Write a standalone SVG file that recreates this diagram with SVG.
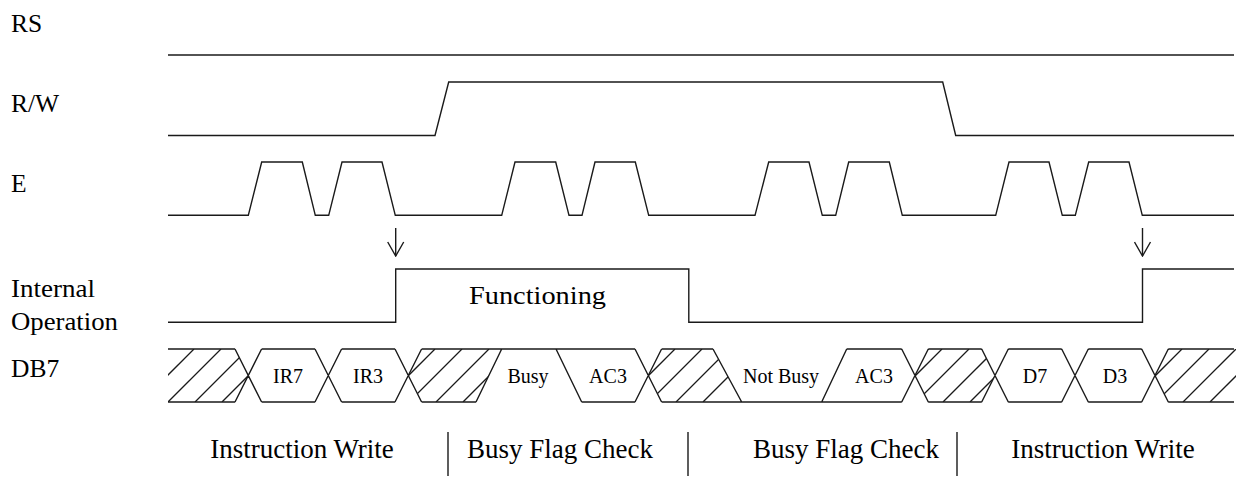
<svg xmlns="http://www.w3.org/2000/svg" width="1236" height="477" viewBox="0 0 1236 477">
<style>
.sig{fill:none;stroke:#1a1a1a;stroke-width:1.4;stroke-linejoin:miter}
.lbl{font-family:"Liberation Serif","Times New Roman",serif;font-size:25.5px;fill:#000}
.in{font-family:"Liberation Serif","Times New Roman",serif;font-size:20px;fill:#000;text-anchor:middle}
.bot{font-family:"Liberation Serif","Times New Roman",serif;font-size:27px;fill:#000;text-anchor:middle}
.hat{stroke:#1a1a1a;stroke-width:1.3}
</style>
<defs>
<marker id="arr" viewBox="0 0 16 18" refX="15" refY="9" markerWidth="16" markerHeight="18" markerUnits="userSpaceOnUse" orient="auto">
<path d="M1,1 L15,9 L1,17" fill="none" stroke="#1a1a1a" stroke-width="1.4"/>
</marker>
<clipPath id="c1"><polygon points="168,349 235,349 248.3,375.5 235,402 168,402"/></clipPath>
<clipPath id="c2"><polygon points="408.3,375.5 421.7,349 501.7,349 476,402 421.7,402"/></clipPath>
<clipPath id="c3"><polygon points="648.3,375.5 661.7,349 713,349 741.7,402 661.7,402"/></clipPath>
<clipPath id="c4"><polygon points="915,375.5 928.3,349 981.7,349 995,375.5 981.7,402 928.3,402"/></clipPath>
<clipPath id="c5"><polygon points="1155,375.5 1168.3,349 1236,349 1236,402 1168.3,402"/></clipPath>
</defs>
<rect width="1236" height="477" fill="#fff"/>

<g id="rs">
<text class="lbl" x="11" y="31.5">RS</text>
<path class="sig" d="M168,55 H1234"/>
</g>

<g id="rw">
<text class="lbl" x="11" y="111.5">R/W</text>
<path class="sig" d="M168,135.5 H435 L448.7,82 H942.7 L955.7,135.5 H1234"/>
</g>

<g id="e">
<text class="lbl" x="11" y="191.5">E</text>
<path class="sig" d="M168,215.3 H248.3 L261.7,162 H302.3 L315.3,215.3 H328.7 L342,162 H382 L395.3,215.3 H501.7 L515,162 H555.7 L569,215.3 H582 L595,162 H635.3 L648.7,215.3 H755 L768.7,162 H809 L822.3,215.3 H835.7 L848.7,162 H889.3 L902.3,215.3 H995.7 L1009,162 H1049 L1062.3,215.3 H1075.3 L1088.7,162 H1129 L1142.3,215.3 H1234"/>
</g>

<g id="internal-operation">
<text class="lbl" x="11" y="296.5" textLength="84" lengthAdjust="spacingAndGlyphs">Internal</text>
<text class="lbl" x="11" y="330" textLength="107" lengthAdjust="spacingAndGlyphs">Operation</text>
<path class="sig" d="M168,322.3 H395.7 V269 H688.8 V322.3 H1142.5 V269 H1234"/>
<text class="lbl" x="469" y="304" textLength="137" lengthAdjust="spacingAndGlyphs">Functioning</text>
</g>

<g id="db7">
<text class="lbl" x="11" y="377">DB7</text>
<g clip-path="url(#c1)" class="hat">
<line x1="141" y1="402" x2="194" y2="349"/><line x1="168" y1="402" x2="221" y2="349"/><line x1="195" y1="402" x2="248" y2="349"/><line x1="222" y1="402" x2="275" y2="349"/>
</g>
<g clip-path="url(#c2)" class="hat">
<line x1="382" y1="402" x2="435" y2="349"/><line x1="409" y1="402" x2="462" y2="349"/><line x1="436" y1="402" x2="489" y2="349"/><line x1="463" y1="402" x2="516" y2="349"/>
</g>
<g clip-path="url(#c3)" class="hat">
<line x1="622" y1="402" x2="675" y2="349"/><line x1="649" y1="402" x2="702" y2="349"/><line x1="676" y1="402" x2="729" y2="349"/><line x1="703" y1="402" x2="756" y2="349"/>
</g>
<g clip-path="url(#c4)" class="hat">
<line x1="889" y1="402" x2="942" y2="349"/><line x1="916" y1="402" x2="969" y2="349"/><line x1="943" y1="402" x2="996" y2="349"/><line x1="970" y1="402" x2="1023" y2="349"/>
</g>
<g clip-path="url(#c5)" class="hat">
<line x1="1129" y1="402" x2="1182" y2="349"/><line x1="1156" y1="402" x2="1209" y2="349"/><line x1="1183" y1="402" x2="1236" y2="349"/><line x1="1210" y1="402" x2="1263" y2="349"/>
</g>
<path class="sig" d="M168,349 H235 M261.7,349 H315 M341.7,349 H395 M421.7,349 H635 M661.7,349 H713 M846.7,349 H901.7 M928.3,349 H981.7 M1008.3,349 H1061.7 M1088.3,349 H1141.7 M1168.3,349 H1234
M168,402 H235 M261.7,402 H315 M341.7,402 H395 M421.7,402 H476 M581.7,402 H635 M661.7,402 H901.7 M928.3,402 H981.7 M1008.3,402 H1061.7 M1088.3,402 H1141.7 M1168.3,402 H1234
M235,349 L261.6,402 M235,402 L261.6,349
M315,349 L341.6,402 M315,402 L341.6,349
M395,349 L421.6,402 M395,402 L421.6,349
M635,349 L661.6,402 M635,402 L661.6,349
M901.7,349 L928.3,402 M901.7,402 L928.3,349
M981.7,349 L1008.3,402 M981.7,402 L1008.3,349
M1061.7,349 L1088.3,402 M1061.7,402 L1088.3,349
M1141.7,349 L1168.3,402 M1141.7,402 L1168.3,349
M476,402 L501.7,349 M556,349 L581.7,402 M713,349 L741.7,402 M821.7,402 L846.7,349"/>
<text class="in" x="288" y="383">IR7</text>
<text class="in" x="368" y="383">IR3</text>
<text class="in" x="528" y="383">Busy</text>
<text class="in" x="608" y="383">AC3</text>
<text class="in" x="781" y="383">Not Busy</text>
<text class="in" x="874" y="383">AC3</text>
<text class="in" x="1035" y="383">D7</text>
<text class="in" x="1115" y="383">D3</text>
</g>

<g id="phases">
<text class="bot" x="302" y="458">Instruction Write</text>
<text class="bot" x="560" y="458">Busy Flag Check</text>
<text class="bot" x="846" y="458">Busy Flag Check</text>
<text class="bot" x="1103" y="458">Instruction Write</text>
<path class="sig" d="M448,432 V476 M688,432 V476 M957,432 V476"/>
</g>

<g id="connectors">
<line class="sig" x1="395.7" y1="228" x2="395.7" y2="256" marker-end="url(#arr)"/>
<line class="sig" x1="1142.5" y1="228" x2="1142.5" y2="256" marker-end="url(#arr)"/>
</g>
</svg>
